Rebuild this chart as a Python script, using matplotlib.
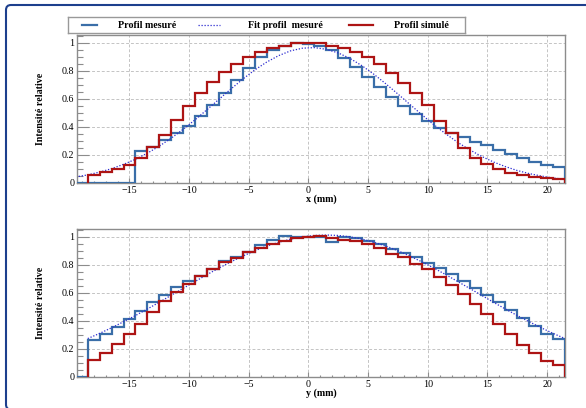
#!/usr/bin/python3
# coding=utf-8

import numpy as np
import matplotlib
matplotlib.use('Agg')
from matplotlib import pyplot as plt
from matplotlib.path import Path
from matplotlib.patches import PathPatch
from matplotlib.ticker import MultipleLocator, FormatStrFormatter

plt.rcParams['font.family'] = ['Liberation Serif', 'DejaVu Serif']
plt.rcParams['axes.unicode_minus'] = True

# bords des bins (1 mm), centres de -19 a 21
bords_mesure = np.arange(-19.5, 22.0, 1.0)
bords_simule = np.arange(-18.5, 22.0, 1.0)

# profil en x
x_mesure = [0, 0, 0, 0, 0, 0.23, 0.26, 0.31, 0.355, 0.405, 0.48, 0.555, 0.64, 0.733,
            0.822, 0.895, 0.95, 0.98, 0.995, 0.99, 0.977, 0.945, 0.893, 0.83, 0.758,
            0.686, 0.612, 0.55, 0.492, 0.443, 0.393, 0.357, 0.326, 0.295, 0.269, 0.238,
            0.21, 0.176, 0.15, 0.13, 0.115]
x_simule = [0.06, 0.08, 0.10, 0.13, 0.18, 0.26, 0.34, 0.45, 0.55, 0.64, 0.72, 0.79,
            0.85, 0.90, 0.935, 0.96, 0.98, 1.0, 1.0, 1.0, 0.98, 0.96, 0.935, 0.90,
            0.85, 0.786, 0.714, 0.638, 0.555, 0.443, 0.353, 0.253, 0.179, 0.134,
            0.098, 0.072, 0.055, 0.043, 0.036, 0.029]
x_fit_pos = np.arange(-19.5, 22.0, 1.0)
x_fit = [0.043, 0.058, 0.078, 0.102, 0.133, 0.169, 0.213, 0.263, 0.320, 0.383, 0.451,
         0.523, 0.597, 0.670, 0.741, 0.806, 0.862, 0.908, 0.942, 0.961, 0.965, 0.953,
         0.927, 0.887, 0.835, 0.774, 0.706, 0.634, 0.560, 0.487, 0.416, 0.351, 0.290,
         0.237, 0.190, 0.150, 0.117, 0.089, 0.067, 0.050, 0.036, 0.026]

# profil en y
y_mesure = [0, 0.267, 0.305, 0.357, 0.41, 0.474, 0.536, 0.588, 0.638, 0.683, 0.72,
            0.77, 0.826, 0.852, 0.893, 0.942, 0.977, 1.005, 1.0, 1.0, 1.0, 0.965,
            0.995, 0.99, 0.972, 0.95, 0.915, 0.885, 0.855, 0.814, 0.774, 0.733, 0.686,
            0.636, 0.584, 0.536, 0.476, 0.421, 0.362, 0.31, 0.27]
y_simule = [0.119, 0.169, 0.233, 0.307, 0.38, 0.46, 0.54, 0.605, 0.662, 0.72, 0.77,
            0.82, 0.847, 0.89, 0.922, 0.951, 0.973, 0.99, 0.995, 1.003, 0.99, 0.98,
            0.97, 0.948, 0.917, 0.88, 0.852, 0.808, 0.77, 0.71, 0.657, 0.59, 0.522,
            0.45, 0.376, 0.305, 0.226, 0.168, 0.114, 0.082]
y_fit_pos = np.arange(-18.5, 22.0, 1.0)
y_fit = [0.274, 0.311, 0.351, 0.394, 0.438, 0.485, 0.533, 0.583, 0.632, 0.681, 0.730,
         0.777, 0.821, 0.862, 0.900, 0.933, 0.960, 0.983, 0.999, 1.009, 1.012, 1.009,
         0.999, 0.983, 0.960, 0.933, 0.900, 0.862, 0.821, 0.777, 0.730, 0.681, 0.632,
         0.583, 0.533, 0.485, 0.438, 0.394, 0.351, 0.311, 0.274]

labels_leg = ['Profil mesuré', 'Fit profil  mesuré', 'Profil simulé']

c_bleu = '#3a6ea8'
c_rouge = '#ad1414'
c_fit = '#2b2bd0'
c_gris = '#8c8c8c'
fs = 7.2

W, H = 586, 408
fig = plt.figure(figsize=(W / 100, H / 100), dpi=100)

# cadre bleu (bloc beamer), seuls le bord gauche et le haut sont visibles
fond = fig.add_axes([0, 0, 1, 1])
fond.set_xlim(0, W)
fond.set_ylim(H, 0)
fond.axis('off')
r = 5
cadre = Path([(W + 10, 5), (6 + r, 5), (6, 5), (6, 5 + r), (6, 409.5 - r), (6, 409.5),
              (6 + r, 409.5), (60, 409.5)],
             [Path.MOVETO, Path.LINETO, Path.CURVE3, Path.CURVE3, Path.LINETO,
              Path.CURVE3, Path.CURVE3, Path.LINETO])
fond.add_patch(PathPatch(cadre, fc='none', ec='#1d3f8d', lw=1.5))


def panneau(rect, mesure, simule, fit_pos, fit, xlabel):
    ax = fig.add_axes(rect)
    ax.stairs(mesure, bords_mesure, baseline=0, color=c_bleu, lw=1.6, zorder=3)
    ax.plot(fit_pos, fit, ls=(0, (1, 1.4)), color=c_fit, lw=0.9, zorder=4)
    ax.stairs(simule, bords_simule, baseline=0, color=c_rouge, lw=1.6, zorder=5)
    ax.set_xlim(-19.4, 21.5)
    ax.set_ylim(0, 1.055)
    ax.xaxis.set_major_locator(MultipleLocator(5))
    ax.xaxis.set_minor_locator(MultipleLocator(1))
    ax.yaxis.set_major_locator(MultipleLocator(0.2))
    ax.yaxis.set_minor_locator(MultipleLocator(0.05))
    ax.yaxis.set_major_formatter(FormatStrFormatter('%g'))
    ax.grid(True, which='major', ls=(0, (3, 2)), color='#c4c4c4', lw=0.7, zorder=0)
    for s in ax.spines.values():
        s.set_color(c_gris)
        s.set_linewidth(1.0)
    ax.tick_params(axis='both', which='both', direction='in', colors=c_gris,
                   labelcolor='black', labelsize=fs, width=0.8)
    ax.tick_params(axis='y', which='major', length=8.6, pad=2)
    ax.tick_params(axis='y', which='minor', length=4.3)
    ax.tick_params(axis='x', which='major', length=3.5, pad=2)
    ax.tick_params(axis='x', which='minor', length=1.8)
    ax.set_xlabel(xlabel, fontsize=fs, fontweight='bold', labelpad=0)
    ax.set_ylabel('Intensité relative', fontsize=fs, fontweight='bold')
    ax.yaxis.set_label_coords(-0.066, 0.5)
    return ax


ax1 = panneau([77 / W, 1 - 183 / H, 488 / W, 148 / H], x_mesure, x_simule,
              x_fit_pos, x_fit, 'x (mm)')
ax2 = panneau([77 / W, 1 - 377 / H, 488 / W, 148 / H], y_mesure, y_simule,
              y_fit_pos, y_fit, 'y (mm)')

# legende en haut
leg = fig.add_axes([68 / W, 1 - 33 / H, 397 / W, 16 / H])
leg.set_xlim(68, 465)
leg.set_ylim(0, 1)
leg.set_xticks([])
leg.set_yticks([])
for s in leg.spines.values():
    s.set_color('#999999')
    s.set_linewidth(1.0)
leg.plot([82, 97], [0.5, 0.5], color=c_bleu, lw=1.6)
leg.plot([198, 220], [0.5, 0.5], color=c_fit, lw=0.9, ls=(0, (1, 1.4)))
leg.plot([349, 373], [0.5, 0.5], color=c_rouge, lw=1.6)
for xc, lab in zip([147, 285, 421], labels_leg):
    leg.text(xc, 0.5, lab, ha='center', va='center', fontsize=fs, fontweight='bold')

fig.savefig('out.png', dpi=100)
